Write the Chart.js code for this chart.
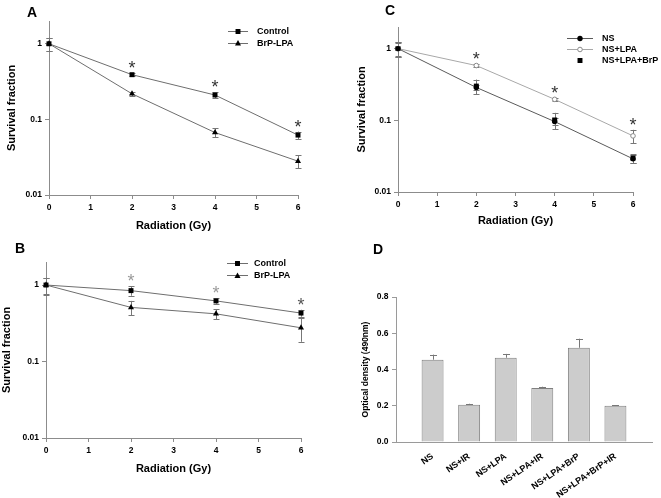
<!DOCTYPE html>
<html>
<head>
<meta charset="utf-8">
<script src="https://cdn.jsdelivr.net/npm/chart.js@4/dist/chart.umd.min.js"></script>
<style>
  body { margin: 0; background: #fff; }
  #wrap { position: relative; width: 661px; height: 498px; overflow: hidden; }
  .panel { position: absolute; }
  .letter { position: absolute; font: bold 14px 'Liberation Sans', Arial, sans-serif; line-height: 14px; color: #000; }
</style>
</head>
<body>
<div id="wrap">
  <div class="panel" style="left:0;top:0"><canvas id="chartA" width="330" height="245"></canvas></div>
  <div class="panel" style="left:0;top:245px"><canvas id="chartB" width="330" height="253"></canvas></div>
  <div class="panel" style="left:330px;top:0"><canvas id="chartC" width="331" height="245"></canvas></div>
  <div class="panel" style="left:330px;top:245px"><canvas id="chartD" width="331" height="253"></canvas></div>
  <div class="letter" style="left:27px;top:5px">A</div>
  <div class="letter" style="left:15px;top:241px">B</div>
  <div class="letter" style="left:385px;top:3px">C</div>
  <div class="letter" style="left:373px;top:242px">D</div>
</div>
<script>
// dose points (Gy) shared by A, B, C
const radiation = [0, 2, 4, 6];
const logTicks = [0.01, 0.1, 1];
const starDoses = [2, 4, 6];

// panel A
const aControl = [1, 0.39, 0.21, 0.062];
const aControlErr = [0.2, 0.02, 0.02, 0.007];
const aBrpLpa = [1, 0.218, 0.067, 0.028];
const aBrpLpaErr = [0.2, 0.015, 0.009, 0.0055];

// panel B
const bControl = [1, 0.845, 0.62, 0.43];
const bControlErr = [0.24, 0.12, 0.05, 0.045];
const bBrpLpa = [1, 0.51, 0.42, 0.276];
const bBrpLpaErr = [0.25, 0.11, 0.065, 0.095];

// panel C
const cNs = [1, 0.287, 0.096, 0.029];
const cNsErr = [0.24, 0.02, 0.01, 0.004];
const cNsLpa = [1, 0.58, 0.196, 0.0606];
const cNsLpaErr = [0.2, 0.03, 0.01, 0.013];
const cNsLpaBrp = [1, 0.30, 0.101, 0.0297];
const cNsLpaBrpErr = [0.24, 0.07, 0.026, 0.004];

// panel D
const dCategories = ['NS', 'NS+IR', 'NS+LPA', 'NS+LPA+IR', 'NS+LPA+BrP', 'NS+LPA+BrP+IR'];
const dValues = [0.454, 0.206, 0.465, 0.298, 0.52, 0.2];
const dErr = [0.028, 0.005, 0.021, 0.007, 0.05, 0.004];

const FONT = "'Liberation Sans', Arial, sans-serif";
const axisGray = '#8c8c8c';
Chart.defaults.font.family = FONT;
Chart.defaults.color = '#000';

function toPoints(ys) {
  return radiation.map((x, i) => ({ x: x, y: ys[i] }));
}

function drawMarker(ctx, ds, x, y) {
  const r = ds.pointRadius;
  ctx.save();
  ctx.fillStyle = ds.pointBackgroundColor;
  ctx.strokeStyle = ds.pointBorderColor;
  ctx.lineWidth = ds.pointBorderWidth;
  ctx.beginPath();
  if (ds.pointStyle === 'rect') {
    const s = r * Math.SQRT1_2;
    ctx.rect(x - s, y - s, 2 * s, 2 * s);
  } else if (ds.pointStyle === 'triangle') {
    ctx.moveTo(x, y - r);
    ctx.lineTo(x + r * 0.87, y + r * 0.6);
    ctx.lineTo(x - r * 0.87, y + r * 0.6);
    ctx.closePath();
  } else {
    ctx.arc(x, y, r, 0, Math.PI * 2);
  }
  ctx.fill();
  if (ds.pointBorderWidth > 0) ctx.stroke();
  ctx.restore();
}

// error bars from dataset.errors, through the y scale
const errorBars = {
  id: 'errorBars',
  beforeDatasetsDraw(chart) {
    const ctx = chart.ctx;
    const ys = chart.scales.y;
    chart.data.datasets.forEach((ds, i) => {
      if (!ds.errors) return;
      const meta = chart.getDatasetMeta(i);
      meta.data.forEach((el, j) => {
        const raw = ds.data[j];
        const v = (raw !== null && typeof raw === 'object') ? raw.y : raw;
        if (v === null || v === undefined) return;
        const e = ds.errors[j];
        const top = ys.getPixelForValue(v + e);
        const bot = ds.upOnly ? ys.getPixelForValue(v) : ys.getPixelForValue(v - e);
        const x = Math.round(el.x) + 0.5;
        const cap = ds.capHalf || 3;
        ctx.save();
        ctx.strokeStyle = ds.errorColor || '#777';
        ctx.lineWidth = 1;
        ctx.beginPath();
        ctx.moveTo(x, top); ctx.lineTo(x, bot);
        ctx.moveTo(x - cap, Math.round(top) + 0.5); ctx.lineTo(x + cap, Math.round(top) + 0.5);
        if (!ds.upOnly) {
          ctx.moveTo(x - cap, Math.round(bot) + 0.5); ctx.lineTo(x + cap, Math.round(bot) + 0.5);
        }
        ctx.stroke();
        ctx.restore();
      });
    });
  }
};

// significance asterisks above the upper error of a reference dataset
const stars = {
  id: 'stars',
  afterDatasetsDraw(chart, args, opts) {
    if (!opts || !opts.doses) return;
    const ds = chart.data.datasets[opts.dataset];
    const ctx = chart.ctx;
    ctx.save();
    ctx.font = '18px ' + FONT;
    ctx.textAlign = 'center';
    ctx.textBaseline = 'alphabetic';
    opts.doses.forEach((d, k) => {
      const j = radiation.indexOf(d);
      const v = ds.data[j].y + ds.errors[j];
      ctx.fillStyle = opts.colors ? opts.colors[k] : '#333';
      ctx.fillText('*', chart.scales.x.getPixelForValue(d), chart.scales.y.getPixelForValue(v) + 1);
    });
    ctx.restore();
  }
};

// legend drawn inside the plot, top right
const innerLegend = {
  id: 'innerLegend',
  afterDraw(chart, args, opts) {
    if (!opts || opts.x === undefined) return;
    const ctx = chart.ctx;
    chart.data.datasets.forEach((ds, i) => {
      const y = opts.y + i * opts.step;
      const x0 = opts.x, x1 = opts.x + opts.len;
      if (ds.showLine !== false) {
        ctx.save();
        ctx.strokeStyle = ds.borderColor;
        ctx.lineWidth = ds.borderWidth || 1;
        ctx.beginPath();
        ctx.moveTo(x0, Math.round(y) + 0.5);
        ctx.lineTo(x1, Math.round(y) + 0.5);
        ctx.stroke();
        ctx.restore();
      }
      drawMarker(ctx, ds, (x0 + x1) / 2, y + 0.5);
      ctx.save();
      ctx.fillStyle = '#000';
      ctx.font = 'bold 9px ' + FONT;
      ctx.textBaseline = 'middle';
      ctx.fillText(ds.label, x1 + opts.gap, y + 0.5);
      ctx.restore();
    });
  }
};

function series(label, ys, errs, style, lineColor, fill, stroke, showLine) {
  const open = fill === '#fff';
  return {
    label: label,
    data: toPoints(ys),
    errors: errs,
    showLine: showLine,
    borderColor: lineColor,
    borderWidth: 1,
    pointStyle: style,
    pointRadius: style === 'circle' ? (open ? 2.3 : 2.7) : 3.5,
    pointBackgroundColor: fill,
    pointBorderColor: stroke,
    pointBorderWidth: open ? 1 : 0,
    clip: false
  };
}

function logChart(id, datasets, lay) {
  return new Chart(document.getElementById(id), {
    type: 'scatter',
    data: { datasets: datasets },
    plugins: [errorBars, stars, innerLegend],
    options: {
      responsive: false,
      animation: false,
      events: [],
      layout: { padding: { top: lay.top, right: lay.right, left: 0, bottom: 0 } },
      plugins: {
        legend: { display: false },
        tooltip: { enabled: false },
        stars: lay.stars,
        innerLegend: lay.legend
      },
      scales: {
        x: {
          type: 'linear', min: 0, max: 6,
          ticks: { stepSize: 1, font: { size: 8.5, weight: 'bold' }, padding: 4 },
          grid: { drawOnChartArea: false, tickLength: 4, color: axisGray },
          border: { color: axisGray },
          title: { display: true, text: 'Radiation (Gy)', font: { size: 11, weight: 'bold' }, padding: { top: 0, bottom: lay.xTitlePad } },
          afterFit: s => { s.height = lay.xHeight; }
        },
        y: {
          type: 'logarithmic', min: 0.01, max: 2,
          afterBuildTicks: s => { s.ticks = logTicks.map(v => ({ value: v })); },
          ticks: { callback: v => String(v), font: { size: 8.5, weight: 'bold' }, padding: 3 },
          grid: { drawOnChartArea: false, tickLength: 4, color: axisGray },
          border: { color: axisGray },
          title: { display: true, text: 'Survival fraction', font: { size: 11, weight: 'bold' }, padding: { top: lay.yTitlePad, bottom: 0 } },
          afterFit: s => { s.width = lay.yWidth; }
        }
      }
    }
  });
}

logChart('chartA', [
  series('Control', aControl, aControlErr, 'rect', '#6e6e6e', '#000', '#000', true),
  series('BrP-LPA', aBrpLpa, aBrpLpaErr, 'triangle', '#6e6e6e', '#000', '#000', true)
], {
  top: 21, right: 32, yWidth: 49, xHeight: 50, xTitlePad: 12, yTitlePad: 5,
  stars: { dataset: 0, doses: starDoses },
  legend: { x: 228, y: 31, step: 12, len: 20, gap: 9 }
});

logChart('chartB', [
  series('Control', bControl, bControlErr, 'rect', '#6e6e6e', '#000', '#000', true),
  series('BrP-LPA', bBrpLpa, bBrpLpaErr, 'triangle', '#6e6e6e', '#000', '#000', true)
], {
  top: 17, right: 29, yWidth: 46, xHeight: 60, xTitlePad: 22, yTitlePad: 0,
  stars: { dataset: 0, doses: starDoses, colors: ['#9a9a9a', '#9a9a9a', '#555'] },
  legend: { x: 227, y: 18, step: 12.4, len: 21, gap: 6 }
});

logChart('chartC', [
  series('NS', cNs, cNsErr, 'circle', '#5a5a5a', '#000', '#000', true),
  series('NS+LPA', cNsLpa, cNsLpaErr, 'circle', '#a8a8a8', '#fff', '#8a8a8a', true),
  series('NS+LPA+BrP', cNsLpaBrp, cNsLpaBrpErr, 'rect', '#000', '#000', '#000', false)
], {
  top: 27, right: 28, yWidth: 68, xHeight: 53, xTitlePad: 17, yTitlePad: 25,
  stars: { dataset: 1, doses: starDoses },
  legend: { x: 237, y: 38, step: 11, len: 26, gap: 9 }
});

// panel D: blank slots at both ends so bars sit at 1..6 of 7 divisions
new Chart(document.getElementById('chartD'), {
  type: 'bar',
  data: {
    labels: [''].concat(dCategories, ['']),
    datasets: [{
      data: [null].concat(dValues, [null]),
      errors: [0].concat(dErr, [0]),
      upOnly: true,
      capHalf: 3.5,
      backgroundColor: '#cccccc',
      borderColor: '#808080',
      borderWidth: 1,
      categoryPercentage: 1,
      barPercentage: 0.6
    }]
  },
  plugins: [errorBars],
  options: {
    responsive: false,
    animation: false,
    events: [],
    layout: { padding: { top: 52, right: 9, left: 0, bottom: 0 } },
    plugins: { legend: { display: false }, tooltip: { enabled: false } },
    scales: {
      x: {
        type: 'category', offset: false,
        ticks: { autoSkip: false, minRotation: 35, maxRotation: 35, font: { size: 9, weight: 'bold' }, padding: 1 },
        grid: { display: false },
        border: { display: true, color: '#9a9a9a' },
        afterFit: s => { s.height = 56; }
      },
      y: {
        min: 0, max: 0.8,
        ticks: { stepSize: 0.2, callback: v => v.toFixed(1), font: { size: 8.5, weight: 'bold' }, padding: 3.5 },
        grid: { drawOnChartArea: false, tickLength: 4, color: '#9a9a9a' },
        border: { color: '#9a9a9a' },
        title: { display: true, text: 'Optical density (490nm)', font: { size: 8.5, weight: 'bold' }, padding: { top: 31, bottom: 0 } },
        afterFit: s => { s.width = 66; }
      }
    }
  }
});
</script>
</body>
</html>
